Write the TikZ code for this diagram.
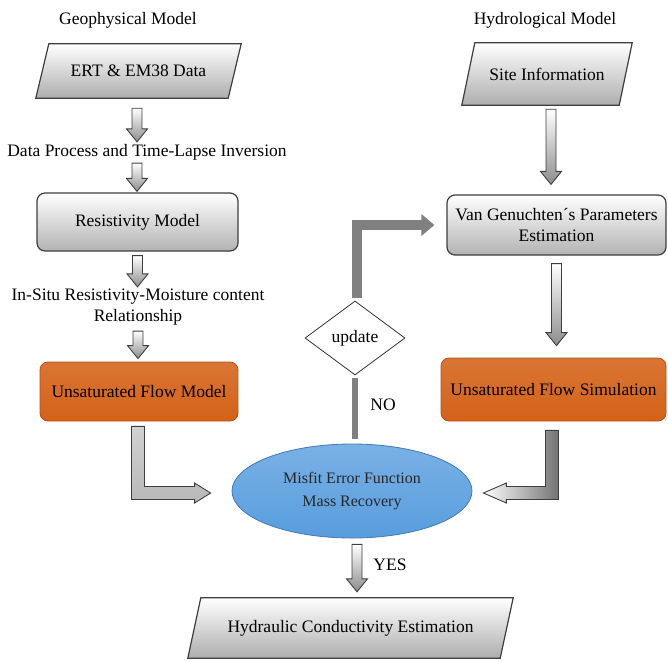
\documentclass[tikz,border=0pt]{standalone}
\usepackage{fontspec}
\setmainfont{Liberation Serif}
\usepackage{tikz}
\usetikzlibrary{shapes.geometric,arrows.meta,calc,backgrounds}
\definecolor{GrisBorde}{RGB}{62,62,62}
\definecolor{GrisBarra}{RGB}{128,128,128}
\definecolor{NaranjaFlujo}{RGB}{212,98,24}
\definecolor{NaranjaBorde}{RGB}{178,82,20}
\definecolor{AzulMisfit}{RGB}{88,157,222}
\definecolor{AzulBorde}{RGB}{62,122,188}
% small block arrow, straight down from #1 to the tip #2
\newcommand{\DownBlock}[2]{%
  \path[flechita] let \p1=(#1), \p2=(#2) in
    (\x1-5pt,\y1) -- (\x1+5pt,\y1) -- (\x1+5pt,\y2+13pt) -- (\x1+10.5pt,\y2+13pt)
    -- (\x1,\y2) -- (\x1-10.5pt,\y2+13pt) -- (\x1-5pt,\y2+13pt) -- cycle;}
% parallelogram behind a data node, slanted by 13pt
\newcommand{\DataFrame}[1]{%
  \path[datos] (#1.south west) -- ($(#1.south east)+(-13,0)$) -- (#1.north east)
    -- ($(#1.north west)+(13,0)$) -- cycle;}

\begin{document}
\begin{tikzpicture}[x=1pt,y=-1pt,
  font=\fontsize{17.5}{20.5}\selectfont,
  titulo/.style={inner sep=0pt},
  datosnodo/.style={rectangle,inner sep=0pt},
  datos/.style={draw=GrisBorde,line width=1.2pt,line join=miter,
    top color=white,bottom color=black!32},
  caja/.style={rectangle,rounded corners=8pt,inner sep=0pt,draw=GrisBorde,
    line width=1.2pt,top color=white,bottom color=black!30,align=center},
  flujo/.style={rectangle,rounded corners=8pt,inner sep=0pt,draw=NaranjaBorde,
    line width=0.8pt,top color=NaranjaFlujo!88!white,bottom color=NaranjaFlujo},
  flechita/.style={draw=GrisBorde,line width=0.9pt,top color=white,bottom color=black!45},
  barra/.style={draw=GrisBarra,line width=10pt}]
  \useasboundingbox (0,0) rectangle (668,661);

  % left column
  \node[titulo] (geo) at (128,20) {Geophysical Model};
  \node[datosnodo,minimum width=205pt,minimum height=54pt] (ert) at (138.5,71) {ERT \& EM38 Data};
  \node[titulo] (proc) at (147,152) {Data Process and Time-Lapse Inversion};
  \node[caja,minimum width=201pt,minimum height=58pt] (resist) at (137.5,222) {Resistivity Model};
  \node[titulo,align=center] (insitu) at (138,307) {In-Situ Resistivity-Moisture content\\Relationship};
  \node[flujo,minimum width=198pt,minimum height=59pt] (fmodel) at (139,391.5) {Unsaturated Flow Model};

  % right column
  \node[titulo] (hydro) at (545,20) {Hydrological Model};
  \node[datosnodo,minimum width=170pt,minimum height=62pt] (site) at (547,74) {Site Information};
  \node[caja,minimum width=219pt,minimum height=60pt] (vangen) at (556.5,225) {Van Genuchten´s Parameters\\Estimation};
  \node[flujo,minimum width=225pt,minimum height=63pt] (fsim) at (553.5,389.5) {Unsaturated Flow Simulation};

  % middle
  \node[diamond,aspect=1.35,minimum width=100pt,minimum height=74pt,inner sep=0pt,
    draw=black!80,line width=0.8pt,fill=white] (update) at (355,338) {update};
  \node[ellipse,minimum width=240pt,minimum height=94pt,inner sep=0pt,
    draw=AzulBorde,line width=0.8pt,top color=AzulMisfit!80!white,bottom color=AzulMisfit,
    align=center,font=\fontsize{16}{23}\selectfont,text=black!85] (misfit) at (352,491)
    {Misfit Error Function\\Mass Recovery};
  \node[datosnodo,minimum width=325pt,minimum height=60pt] (hydraulic) at (350.5,628) {Hydraulic Conductivity Estimation};
  \node[titulo] (no) at (383,405) {NO};
  \node[titulo] (yes) at (390,565) {YES};

  \begin{scope}[on background layer]
    \DataFrame{ert}
    \DataFrame{site}
    \DataFrame{hydraulic}
  \end{scope}

  % block arrows
  \DownBlock{$(ert.south)+(-1.5,10)$}{$(proc.north)+(0,-2)$}
  \DownBlock{$(proc.south)+(-10,3)$}{$(resist.north)+(0,-1)$}
  \DownBlock{$(resist.south)+(0,4)$}{$(insitu.north)+(0,-2)$}
  \DownBlock{$(insitu.south)+(0,6)$}{$(fmodel.north)+(0,-3)$}
  \DownBlock{$(site.south)+(4,4)$}{$(vangen.north)+(0,-10)$}
  \DownBlock{$(vangen.south)+(0,8)$}{$(fsim.north)+(0,-12)$}
  \DownBlock{$(misfit.south)+(5,6)$}{$(hydraulic.north)+(0,-6)$}

  % L arrows into the misfit ellipse
  \path[draw=GrisBorde,line width=0.9pt,top color=black!18,bottom color=black!28]
    let \p1=($(fmodel.south)+(-1,5)$), \p2=($(misfit.west)+(-21,2)$) in
    (\x1-6.5pt,\y1) -- (\x1+6.5pt,\y1) -- (\x1+6.5pt,\y2+6.5pt) -- (\x2-16pt,\y2+6.5pt)
    -- (\x2-16pt,\y2+10pt) -- (\x2,\y2) -- (\x2-16pt,\y2-10pt) -- (\x2-16pt,\y2-6.5pt)
    -- (\x1-6.5pt,\y2-6.5pt) -- cycle;
  \path[draw=GrisBorde,line width=0.9pt,left color=white,right color=black!55]
    let \p1=($(fsim.south)+(-1.5,9)$), \p2=($(misfit.east)+(11,2)$) in
    (\x1-6.5pt,\y1) -- (\x1+6.5pt,\y1) -- (\x1+6.5pt,\y2-6.5pt) -- (\x2+23pt,\y2-6.5pt)
    -- (\x2+23pt,\y2-10pt) -- (\x2,\y2) -- (\x2+23pt,\y2+10pt) -- (\x2+23pt,\y2+6.5pt)
    -- (\x1-6.5pt,\y2+6.5pt) -- cycle;

  % update loop
  \draw[barra,line width=6pt,shorten <=3pt,shorten >=5pt] (update.south) -- (update.south |- misfit.north);
  \draw[barra,-{Triangle[length=13pt,width=21pt]},shorten <=3pt,shorten >=12pt]
    ($(update.north)+(2,0)$) |- (vangen.west);
\end{tikzpicture}
\end{document}
